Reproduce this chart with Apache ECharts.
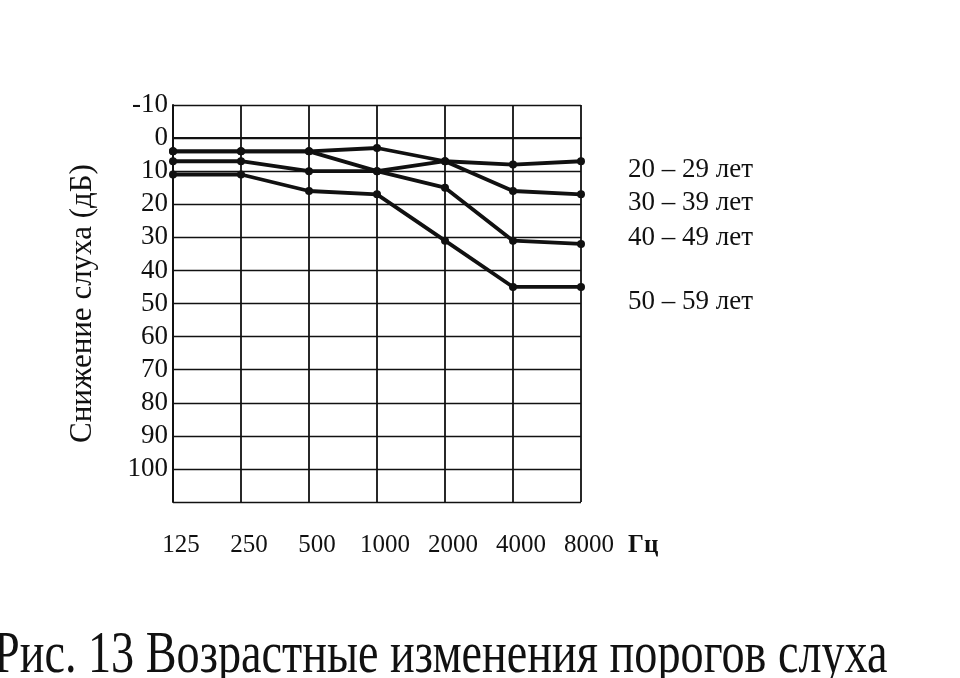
<!DOCTYPE html>
<html><head><meta charset="utf-8">
<script src="https://cdn.jsdelivr.net/npm/echarts@6/dist/echarts.min.js"></script>
<style>html,body{margin:0;padding:0;background:#fff}#c{width:960px;height:678px}</style>
</head><body><div id="c"></div>
<script>
const frequencies = ['125', '250', '500', '1000', '2000', '4000', '8000'];
const freqUnit = 'Гц';
const seriesNames = ['20 – 29 лет', '30 – 39 лет', '40 – 49 лет', '50 – 59 лет'];
const age20_29 = [4, 4, 4, 3, 7, 8, 7];
const age30_39 = [4, 4, 4, 10, 7, 16, 17];
const age40_49 = [7, 7, 10, 10, 15, 31, 32];
const age50_59 = [11, 11, 16, 17, 31, 45, 45];
const yAxisTitle = 'Снижение слуха (дБ)';
const figureCaption = 'Рис. 13 Возрастные изменения порогов слуха';

const serif = '"Liberation Serif", "DejaVu Serif", serif';
const labelDy = [9, 9, -6, 15];
const allData = [age20_29, age30_39, age40_49, age50_59];

const chart = echarts.init(document.getElementById('c'), null, {renderer: 'canvas'});
chart.setOption({
  backgroundColor: '#fff',
  animation: false,
  grid: {left: 173, right: 379, top: 105, bottom: 176, containLabel: false},
  xAxis: {
    type: 'category',
    data: frequencies,
    boundaryGap: false,
    axisLine: {show: true, lineStyle: {color: '#111', width: 1.8}},
    axisTick: {show: false},
    splitLine: {show: true, lineStyle: {color: '#111', width: 1.8}},
    axisLabel: {
      color: '#111', fontFamily: serif, fontSize: 25, margin: 31,
      padding: [0, 0, 0, 16]
    }
  },
  yAxis: {
    type: 'value',
    inverse: true,
    min: -10, max: 110, interval: 10,
    axisLine: {show: true, lineStyle: {color: '#111', width: 2}},
    axisTick: {show: false},
    splitLine: {show: true, lineStyle: {color: '#111', width: 1.4}},
    axisLabel: {
      color: '#111', fontFamily: serif, fontSize: 27, margin: 5,
      formatter: v => (v > 100 ? '' : String(v))
    },
    name: yAxisTitle,
    nameLocation: 'middle',
    nameRotate: 90,
    nameGap: 75,
    nameTextStyle: {color: '#111', fontFamily: serif, fontSize: 31}
  },
  series: allData.map((d, i) => ({
    name: seriesNames[i],
    type: 'line',
    data: d,
    symbol: 'circle',
    symbolSize: 8,
    itemStyle: {color: '#111'},
    lineStyle: {color: '#111', width: 3.8},
    endLabel: {
      show: true,
      formatter: '{a}',
      distance: 0,
      offset: [47, labelDy[i]],
      color: '#111', fontFamily: serif, fontSize: 27
    },
    z: 3
  })),
  graphic: [{
    type: 'text',
    x: 628, y: 533,
    style: {text: freqUnit, fill: '#111', font: 'bold 25px ' + serif}
  }, {
    type: 'text',
    x: -6, y: 627,
    scaleX: 1.05, scaleY: 1.35,
    style: {text: figureCaption, fill: '#111', font: '44px ' + serif}
  }]
});
</script></body></html>
